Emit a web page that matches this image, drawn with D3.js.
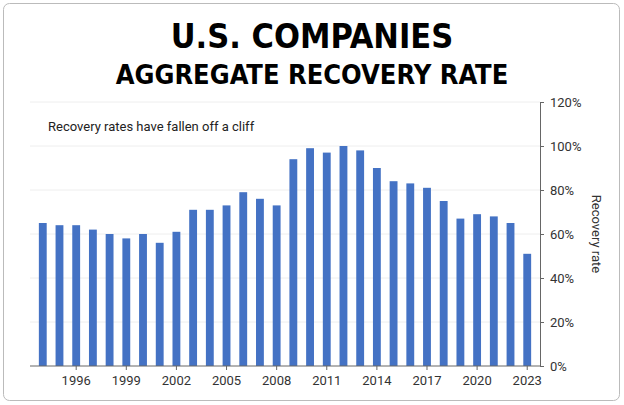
<!DOCTYPE html>
<html><head><meta charset="utf-8">
<script src="https://cdn.jsdelivr.net/npm/d3@7"></script>
<style>body{margin:0;background:#fff}svg{display:block}</style>
</head><body><svg id="c" width="624" height="405"></svg>
<script>
// years and aggregate recovery rates (%)
var years = d3.range(1994, 2024);
var rates = [65,64,64,62,60,58,60,56,61,71,71,73,79,76,73,94,99,97,100,98,90,84,83,81,75,67,69,68,65,51];
var yTicks = [0,20,40,60,80,100,120];
var xLabels = [1996,1999,2002,2005,2008,2011,2014,2017,2020,2023];

var svg = d3.select("#c");
svg.append("rect").attr("x",3.5).attr("y",3.5).attr("width",616).attr("height",397)
    .attr("rx",6).attr("fill","#fff").attr("stroke","#bbb");

var m = {left: 30, right: 540, top: 102, bottom: 366};
var x = d3.scaleBand().domain(years).range([m.left, m.right]).padding(0.53);
var y = d3.scaleLinear().domain([0,120]).range([m.bottom, m.top]);

svg.append("g").selectAll("line").data(yTicks.slice(1)).enter().append("line")
    .attr("x1",m.left).attr("x2",m.right).attr("y1",d=>y(d)).attr("y2",d=>y(d))
    .attr("stroke","#eee");

svg.append("g").selectAll("rect").data(years).enter().append("rect")
    .attr("x",d=>x(d)).attr("width",x.bandwidth())
    .attr("y",(d,i)=>y(rates[i])).attr("height",(d,i)=>m.bottom-y(rates[i]))
    .attr("fill","#4472c4");

var ya = svg.append("g").attr("transform","translate("+m.right+",0)")
    .call(d3.axisRight(y).tickValues(yTicks).tickFormat(d=>d+"%").tickSize(4).tickPadding(6));
var xa = svg.append("g").attr("transform","translate(0,"+m.bottom+")")
    .call(d3.axisBottom(x).tickValues(xLabels).tickSize(4).tickPadding(6));
[ya,xa].forEach(function(a){
  a.select(".domain").attr("stroke","#666");
  a.selectAll("line").attr("stroke","#666");
  a.selectAll("text").attr("font-family","Roboto, 'Liberation Sans', sans-serif")
    .attr("font-size",13).attr("fill","#333");
});
xa.select(".domain").attr("d","M"+m.left+",0H"+m.right);

svg.append("text").attr("x",592).attr("y",234).attr("transform","rotate(90,592,234)")
    .attr("text-anchor","middle").attr("font-family","Roboto, 'Liberation Sans', sans-serif")
    .attr("font-size",13).attr("fill","#333").text("Recovery rate");

svg.append("text").attr("x",48).attr("y",131).attr("font-family","Roboto, 'Liberation Sans', sans-serif")
    .attr("font-size",13).attr("fill","#222").text("Recovery rates have fallen off a cliff");

svg.append("text").attr("x",312).attr("y",48).attr("text-anchor","middle")
    .attr("font-family","'Liberation Sans Narrow','DejaVu Sans Condensed',sans-serif")
    .attr("font-weight","bold").attr("font-size",34).attr("fill","#000").text("U.S. COMPANIES");
svg.append("text").attr("x",312).attr("y",84).attr("text-anchor","middle")
    .attr("font-family","'Liberation Sans Narrow','DejaVu Sans Condensed',sans-serif")
    .attr("font-weight","bold").attr("font-size",27).attr("fill","#000").text("AGGREGATE RECOVERY RATE");
</script></body></html>
